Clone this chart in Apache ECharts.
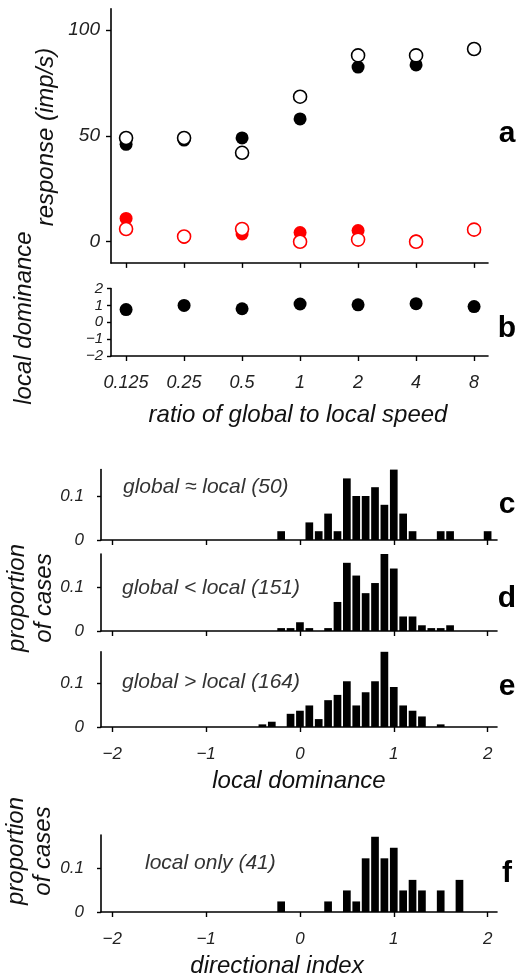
<!DOCTYPE html>
<html>
<head>
<meta charset="utf-8">
<script src="https://cdn.jsdelivr.net/npm/echarts@6/dist/echarts.min.js"></script>
<style>
  html, body { margin: 0; padding: 0; background: #fff; }
  #chart { width: 516px; height: 979px; }
</style>
</head>
<body>
<div id="chart"></div>
<script>
// ratio of global to local speed (category positions 0..6)
var ratioLabels = ['0.125', '0.25', '0.5', '1', '2', '4', '8'];
// panel a: responses (imp/s)
var blackFilled = [46, 48, 49, 58, 82.5, 83.5, 91];
var blackOpen = [49, 49, 42, 68.5, 88, 88, 91];
var redFilled = [11, 2, 3.7, 4.3, 5.3, 0.5, 5.7];
var redOpen = [6, 2.5, 6, 0, 1, 0, 5.7];
// panel b: local dominance
var localDom = [0.75, 1.0, 0.8, 1.08, 1.03, 1.1, 0.93];

// histograms: bin centres and proportions
var binsC = [-0.2, 0.1, 0.2, 0.3, 0.4, 0.5, 0.6, 0.7, 0.8, 0.9, 1.0, 1.1, 1.2, 1.5, 1.6, 2.0];
var propC = [0.02, 0.04, 0.02, 0.06, 0.02, 0.14, 0.10, 0.10, 0.12, 0.08, 0.16, 0.06, 0.02, 0.02, 0.02, 0.02];
var binsD = [-0.2, -0.1, 0.0, 0.1, 0.3, 0.4, 0.5, 0.6, 0.7, 0.8, 0.9, 1.0, 1.1, 1.2, 1.3, 1.4, 1.5, 1.6];
var propD = [0.0066, 0.0066, 0.0199, 0.0066, 0.0066, 0.066, 0.155, 0.126, 0.086, 0.109, 0.175, 0.142, 0.033, 0.033, 0.013, 0.0066, 0.0066, 0.013];
var binsE = [-0.4, -0.3, -0.1, 0.0, 0.1, 0.2, 0.3, 0.4, 0.5, 0.6, 0.7, 0.8, 0.9, 1.0, 1.1, 1.2, 1.3, 1.5];
var propE = [0.006, 0.012, 0.030, 0.037, 0.049, 0.018, 0.061, 0.073, 0.104, 0.049, 0.079, 0.104, 0.171, 0.091, 0.049, 0.037, 0.024, 0.006];
var binsF = [-0.2, 0.3, 0.5, 0.6, 0.7, 0.8, 0.9, 1.0, 1.1, 1.2, 1.3, 1.5, 1.7];
var propF = [0.024, 0.024, 0.049, 0.024, 0.122, 0.171, 0.122, 0.146, 0.049, 0.073, 0.049, 0.049, 0.073];

var histTicks = [-2, -1, 0, 1, 2];
var ratioTicks = [0, 1, 2, 3, 4, 5, 6];

var FONT = 'Liberation Sans, Arial, Helvetica, sans-serif';
var axisLine = { onZero: false, lineStyle: { color: '#000', width: 1.6 } };
var tickStyle = { color: '#000', width: 1.4 };

function pairs(xs, ys) {
  return xs.map(function (x, i) { return [x, ys[i]]; });
}
function minus(v) {
  return String(v).replace('-', '\u2212');
}

var chart = echarts.init(document.getElementById('chart'), null, { renderer: 'canvas' });

var grids = [
  { left: 111, top: 8.8, width: 377, height: 254.1 },   // a
  { left: 111, top: 288.5, width: 377, height: 67.5 },  // b
  { left: 101, top: 469.6, width: 396, height: 70.4 },  // c
  { left: 101, top: 554, width: 396, height: 77 },      // d
  { left: 101, top: 651.8, width: 396, height: 75.2 },  // e
  { left: 101, top: 835, width: 396, height: 77 }       // f
];

function ratioAxis(idx, showLabels) {
  return {
    type: 'value', gridIndex: idx, min: -0.26, max: 6.24,
    axisLine: axisLine,
    axisTick: { customValues: ratioTicks, length: 5, lineStyle: tickStyle },
    axisLabel: {
      show: showLabels, customValues: ratioTicks, margin: 18,
      fontSize: 18, fontStyle: 'italic', fontFamily: FONT, color: '#222',
      formatter: function (v) { return ratioLabels[Math.round(v)]; }
    },
    splitLine: { show: false }
  };
}
function histXAxis(idx, showLabels) {
  return {
    type: 'value', gridIndex: idx, min: -2.12, max: 2.1,
    axisLine: axisLine,
    axisTick: { customValues: histTicks, length: 5, lineStyle: tickStyle },
    axisLabel: {
      show: showLabels, customValues: histTicks, margin: 19,
      fontSize: 17, fontStyle: 'italic', fontFamily: FONT, color: '#222',
      formatter: minus
    },
    splitLine: { show: false }
  };
}
function histYAxis(idx, max) {
  return {
    type: 'value', gridIndex: idx, min: 0, max: max,
    axisLine: axisLine,
    axisTick: { customValues: [0, 0.1], length: 4, lineStyle: tickStyle },
    axisLabel: {
      customValues: [0, 0.1], margin: 17,
      fontSize: 17, fontStyle: 'italic', fontFamily: FONT, color: '#222',
      formatter: function (v) { return v === 0 ? '0' : '0.1'; }
    },
    splitLine: { show: false }
  };
}
function histSeries(idx, xs, ys) {
  return {
    type: 'bar', xAxisIndex: idx, yAxisIndex: idx,
    data: pairs(xs, ys), barWidth: 7.7,
    itemStyle: { color: '#000' }, silent: true
  };
}
function dots(idx, ys, fill, stroke) {
  return {
    type: 'scatter', xAxisIndex: idx, yAxisIndex: idx,
    data: pairs(ratioTicks, ys), symbol: 'circle', symbolSize: 13,
    itemStyle: { color: fill, borderColor: stroke, borderWidth: fill === '#fff' ? 1.6 : 0, opacity: 1 },
    silent: true
  };
}
function label(text, x, y, opts) {
  opts = opts || {};
  return {
    type: 'text', x: x, y: y, rotation: opts.rotate ? Math.PI / 2 : 0, z: 10,
    style: {
      text: text,
      fontSize: opts.size || 24,
      fontStyle: opts.bold ? 'normal' : 'italic',
      fontWeight: opts.bold ? 'bold' : 'normal',
      fontFamily: FONT,
      fill: opts.color || '#111',
      align: opts.align || 'center', textAlign: opts.align || 'center',
      verticalAlign: 'middle', textVerticalAlign: 'middle',
      lineHeight: opts.lineHeight || 27
    }
  };
}

var option = {
  animation: false,
  backgroundColor: '#fff',
  grid: grids,
  xAxis: [
    ratioAxis(0, false),
    ratioAxis(1, true),
    histXAxis(2, false),
    histXAxis(3, false),
    histXAxis(4, true),
    histXAxis(5, true)
  ],
  yAxis: [
    {
      type: 'value', gridIndex: 0, min: -10, max: 110,
      axisLine: axisLine,
      axisTick: { customValues: [0, 50, 100], length: 5, lineStyle: tickStyle },
      axisLabel: {
        customValues: [0, 50, 100], margin: 11,
        fontSize: 19, fontStyle: 'italic', fontFamily: FONT, color: '#222'
      },
      splitLine: { show: false }
    },
    {
      type: 'value', gridIndex: 1, min: -2, max: 2, interval: 1,
      axisLine: axisLine,
      axisTick: { length: 4, lineStyle: tickStyle },
      axisLabel: {
        margin: 8, fontSize: 15, fontStyle: 'italic', fontFamily: FONT, color: '#222',
        formatter: minus
      },
      splitLine: { show: false }
    },
    histYAxis(2, 0.16),
    histYAxis(3, 0.175),
    histYAxis(4, 0.171),
    histYAxis(5, 0.175)
  ],
  series: [
    dots(0, blackFilled, '#000', '#000'),
    dots(0, redFilled, '#f00', '#f00'),
    dots(0, blackOpen, '#fff', '#000'),
    dots(0, redOpen, '#fff', '#f00'),
    dots(1, localDom, '#000', '#000'),
    histSeries(2, binsC, propC),
    histSeries(3, binsD, propD),
    histSeries(4, binsE, propE),
    histSeries(5, binsF, propF)
  ],
  graphic: [
    label('response (imp/s)', 46, 137, { rotate: true }),
    label('local dominance', 24, 318, { rotate: true }),
    label('ratio of global to local speed', 298, 415),
    label('proportion\nof cases', 31, 598, { rotate: true }),
    label('local dominance', 299, 781),
    label('proportion\nof cases', 30, 851, { rotate: true }),
    label('directional index', 277, 966),
    label('global \u2248 local (50)', 123, 487, { align: 'left', size: 21, color: '#333' }),
    label('global < local (151)', 122, 588, { align: 'left', size: 21, color: '#333' }),
    label('global > local (164)', 122, 682, { align: 'left', size: 21, color: '#333' }),
    label('local only (41)', 145, 863, { align: 'left', size: 21, color: '#333' }),
    label('a', 507, 134, { bold: true, size: 30, color: '#000' }),
    label('b', 507, 329, { bold: true, size: 30, color: '#000' }),
    label('c', 507, 505, { bold: true, size: 30, color: '#000' }),
    label('d', 507, 599, { bold: true, size: 30, color: '#000' }),
    label('e', 507, 687, { bold: true, size: 30, color: '#000' }),
    label('f', 507, 874, { bold: true, size: 30, color: '#000' })
  ]
};

chart.setOption(option);
</script>
</body>
</html>
